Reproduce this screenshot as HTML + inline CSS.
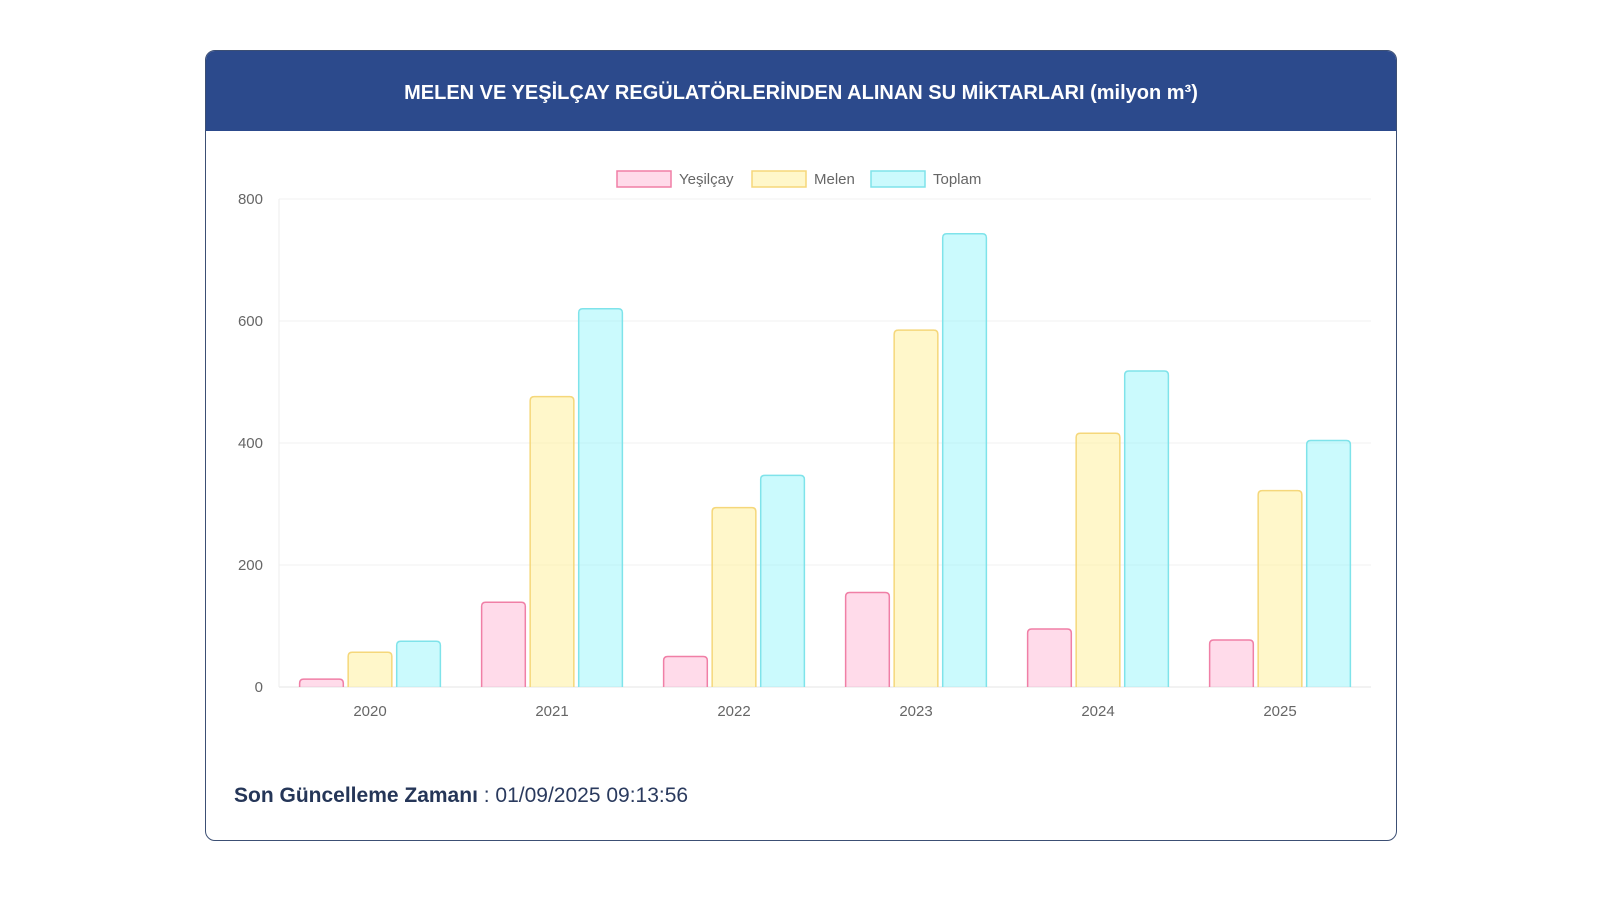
<!DOCTYPE html>
<html><head><meta charset="utf-8">
<style>
body{margin:0;width:1600px;height:900px;background:#fff;overflow:hidden;font-family:"Liberation Sans",sans-serif;}
#card{position:absolute;left:205px;top:50px;width:1190px;height:789px;border:1.5px solid #3c4f74;border-radius:10px;overflow:hidden;background:#fff;}
#hdr{height:80px;background:#2c4a8c;color:#fff;font-weight:bold;font-size:20px;text-align:center;line-height:84px;}
#foot{position:absolute;left:28px;top:733px;font-size:21px;color:#2a3a5e;}
#foot b{color:#253658}
svg{position:absolute;left:0;top:0}
</style></head><body>
<div id="card">
<div id="hdr">MELEN VE YEŞİLÇAY REGÜLATÖRLERİNDEN ALINAN SU MİKTARLARI (milyon m³)</div>
<div id="foot"><b>Son Güncelleme Zamanı</b> : 01/09/2025 09:13:56</div>
</div>
<svg id="chart" width="1600" height="900"></svg>
<script>
const categories=["2020","2021","2022","2023","2024","2025"];
const yesilcay=[13,139,50,155,95,77];
const melen=[57,476,294,585,416,322];
const toplam=[75,620,347,743,518,404];
const yTicks=[0,200,400,600,800];
const seriesNames=["Yeşilçay","Melen","Toplam"];
const NS="http://www.w3.org/2000/svg";
const svg=document.getElementById('chart');
const x0=279,x1=1371,y0=687,y1=199,yMax=800;
const yS=v=>y0-(v/yMax)*(y0-y1);
const cw=(x1-x0)/categories.length;
function mk(t,a){const e=document.createElementNS(NS,t);for(const k in a)e.setAttribute(k,a[k]);svg.appendChild(e);return e;}
yTicks.forEach(v=>{
 const l=mk('line',{x1:x0,x2:x1,y1:yS(v),y2:yS(v),stroke:v===0?'#e4e4e4':'#f0f0f0','stroke-width':1});
 
 
 const t=mk('text',{x:263,y:yS(v)+5,'text-anchor':'end','font-size':15,fill:'#666','font-family':'Liberation Sans, sans-serif'});
 t.textContent=v;
 
 
});
const ax=mk('line',{x1:x0,x2:x0,y1:y1,y2:y0,stroke:'#eee'});


const series=[yesilcay,melen,toplam];
const fills=['rgba(255,160,200,0.38)','rgba(255,240,150,0.5)','rgba(140,245,250,0.45)'];
const strokes=['#f07fa6','#f5d77a','#7fe3ea'];
const slot=cw*0.8/3,bw=slot*0.9;
categories.forEach((c,i)=>{
 const gx=x0+i*cw+cw*0.1;
 series.forEach((s,j)=>{
  const bx=gx+j*slot+(slot-bw)/2,by=yS(s[i]);
  const r=mk('path',{d:`M${bx},${y0}V${by+4}Q${bx},${by} ${bx+4},${by}H${bx+bw-4}Q${bx+bw},${by} ${bx+bw},${by+4}V${y0}`,fill:fills[j],stroke:strokes[j],'stroke-width':1.5});
  
  
 });
 const t=mk('text',{x:x0+i*cw+cw/2,y:716,'text-anchor':'middle','font-size':15,fill:'#666','font-family':'Liberation Sans, sans-serif'});
 t.textContent=c;
 
 
});
const lx=[617,752,871];
seriesNames.forEach((n,j)=>{
 const r=mk('rect',{x:lx[j],y:171,width:54,height:16,fill:fills[j],stroke:strokes[j],'stroke-width':1.5});
 
 
 const t=mk('text',{x:lx[j]+62,y:184,'font-size':15,fill:'#666','font-family':'Liberation Sans, sans-serif'});
 t.textContent=n;
 
 
});
</script>
</body></html>
